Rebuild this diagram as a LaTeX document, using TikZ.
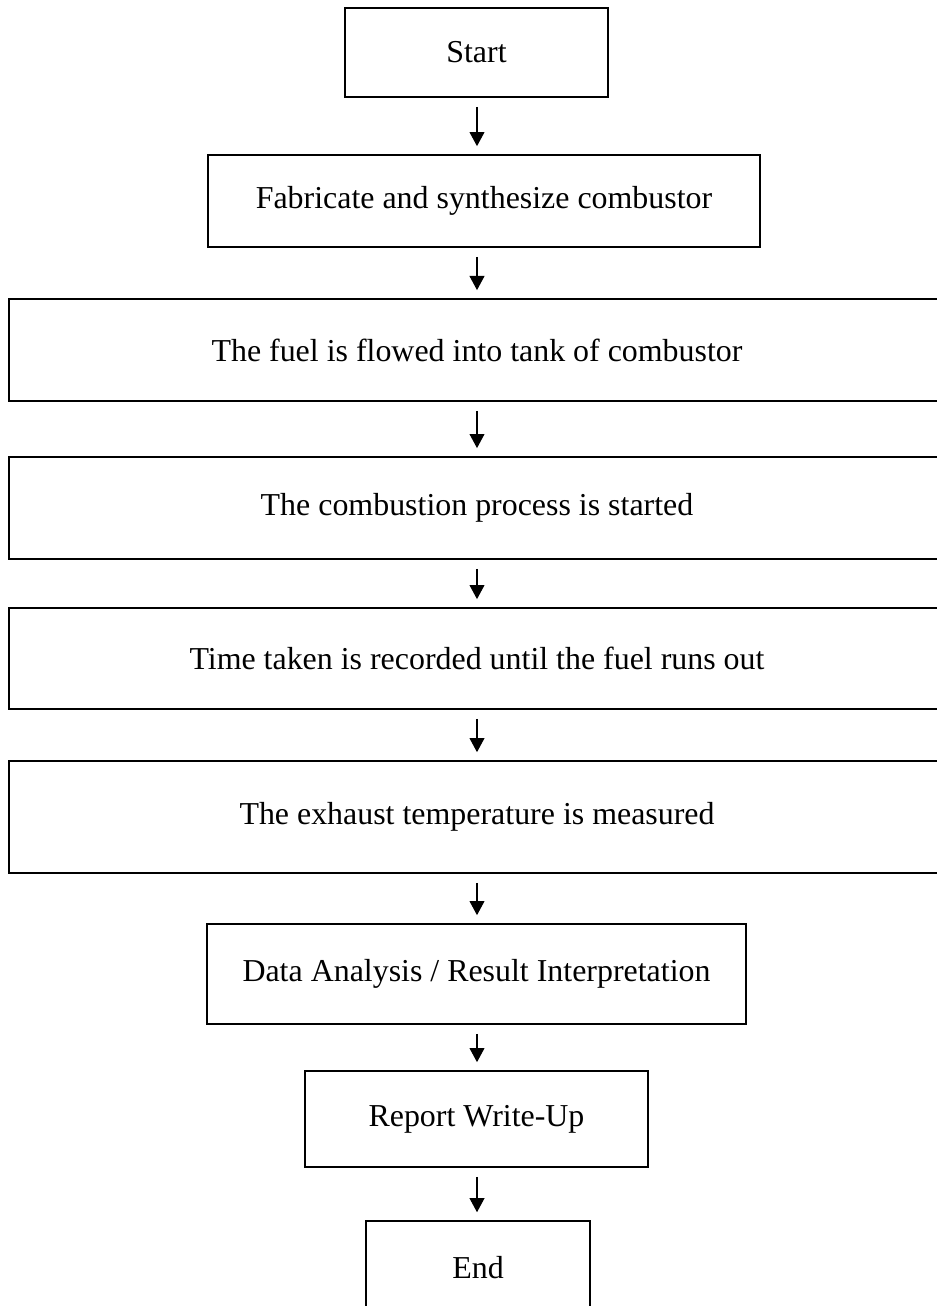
\documentclass[tikz,border=0pt]{standalone}
\usepackage{fontspec}
\setmainfont{Liberation Serif}
\usetikzlibrary{arrows.meta}
\tikzset{
  >={Triangle[length=5.3pt,width=5.6pt]},
  stepbox/.style={draw, line width=.65pt, align=center, inner sep=0pt, font=\fontsize{12}{14}\selectfont},
  widebox/.style={stepbox, minimum width=351.9pt, minimum height=38.4pt},
  flow/.style={->, line width=.4pt, shorten <=3.4pt, shorten >=3pt}
}
\begin{document}
\begin{tikzpicture}[x=0.376pt,y=-0.376pt]
  \useasboundingbox (0,0) rectangle (937,1306);
  \coordinate (axis) at (477,0);
  \node[stepbox,minimum width=98.9pt,minimum height=33.5pt] (start) at (476.5,52.5) {Start};
  \node[stepbox,minimum width=207.6pt,minimum height=34.6pt] (fab) at (484,201) {Fabricate and synthesize combustor};
  \node[widebox] (fuel) at (477,350) {The fuel is flowed into tank of combustor};
  \node[widebox] (burn) at (477,508) {The combustion process is started};
  \node[widebox,minimum height=38pt] (timing) at (477,658.5) {Time taken is recorded until the fuel runs out};
  \node[widebox,minimum height=42.1pt] (exhaust) at (477,817) {The exhaust temperature is measured};
  \node[stepbox,minimum width=202.7pt,minimum height=37.6pt] (analysis) at (476.5,974) {Data Analysis / Result Interpretation};
  \node[stepbox,minimum width=129pt,minimum height=36.1pt] (report) at (476.5,1119) {Report Write-Up};
  \node[stepbox,minimum width=84.2pt,minimum height=35.3pt] (finish) at (478,1268) {End};
  \foreach \a/\b in {start/fab,fab/fuel,fuel/burn,burn/timing,timing/exhaust,exhaust/analysis,analysis/report,report/finish}
    \draw[flow] (\a.south -| axis) -- (\b.north -| axis);
\end{tikzpicture}
\end{document}
